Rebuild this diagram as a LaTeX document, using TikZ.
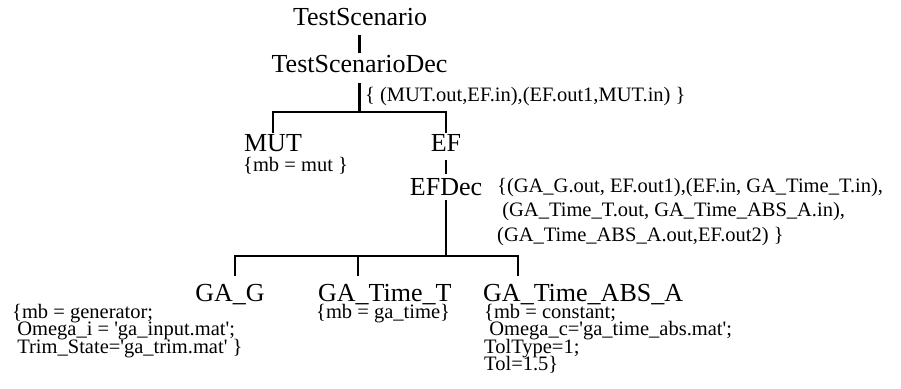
\documentclass[tikz,border=0pt]{standalone}
\usepackage{fontspec}
\setmainfont{Liberation Serif}
\newcommand{\sq}{\textquotesingle}
\newcommand{\ind}{\hspace*{0.25em}}
\newcommand{\tightlines}{\lineskiplimit=-50pt\relax\lineskip=0pt\relax}
\begin{document}
\begin{tikzpicture}[x=1pt,y=-1pt,
  big/.style={inner sep=0pt,font=\fontsize{26}{28}\selectfont},
  small/.style={inner sep=0pt,font={\fontsize{20.5}{17.5}\selectfont\tightlines},align=left},
  mid/.style={inner sep=0pt,font={\fontsize{20.5}{24.5}\selectfont\tightlines},align=left},
  tree/.style={line width=2.6pt}]
\useasboundingbox (0,0) rectangle (901,388);
\node[big,anchor=base] (ts) at (360,25) {TestScenario};
\node[big,anchor=base] (tsd) at (359.5,72) {TestScenarioDec};
\node[mid,anchor=base west] (l1) at (365,101) {\{ (MUT.out,EF.in),(EF.out1,MUT.in) \}};
\node[big,anchor=base] (mut) at (273,151) {MUT};
\node[small,anchor=base west] (mutA) at (243,171) {\{mb = mut \}};
\node[big,anchor=base] (ef) at (446,151) {EF};
\node[big,anchor=base] (efd) at (446,195) {EFDec};
% multi-line nodes: base anchor = baseline of the last line
\node[mid,anchor=base west] (l2) at (497,241) {\{(GA\_G.out, EF.out1),(EF.in, GA\_Time\_T.in),\\\ind(GA\_Time\_T.out, GA\_Time\_ABS\_A.in),\\(GA\_Time\_ABS\_A.out,EF.out2) \}};
\node[big,anchor=base] (gag) at (230,301) {GA\_G};
\node[big,anchor=base west] (gat) at (318,301) {GA\_Time\_T};
\node[big,anchor=base west] (gaa) at (483,301) {GA\_Time\_ABS\_A};
\node[small,anchor=base west] (gagA) at (12,353) {\{mb = generator;\\\ind Omega\_i = \sq ga\_input.mat\sq;\\\ind Trim\_State=\sq ga\_trim.mat\sq\ \}};
\node[small,anchor=base west] (gatA) at (316,318) {\{mb = ga\_time\}};
\node[small,anchor=base west] (gaaA) at (484,370.5) {\{mb = constant;\\\ind Omega\_c=\sq ga\_time\_abs.mat\sq;\\TolType=1;\\Tol=1.5\}};
% connectors
\coordinate (b1) at (359.5,112);
\coordinate (b2) at (446,256);
\coordinate (t1) at (235,276);
\coordinate (t2) at (358,276);
\coordinate (t3) at (518,276);
\draw[tree,shorten <=10pt,shorten >=2pt] (tsd.north |- ts.south) -- (tsd.north);
\draw[tree,shorten <=11pt] (tsd.south) -- (b1);
\draw[tree,shorten >=1pt] (b1) -| (mut.north);
\draw[tree,shorten >=1pt] (b1) -| (ef.north);
\draw[tree,shorten <=9pt,shorten >=4pt] (ef.south) -- (efd.north);
\draw[tree,shorten <=5pt] (efd.south) -- (b2);
\draw[tree] (b2) -| (t1);
\draw[tree] (b2) -| (t3);
\draw[tree] (t2 |- b2) -- (t2);
\end{tikzpicture}
\end{document}
